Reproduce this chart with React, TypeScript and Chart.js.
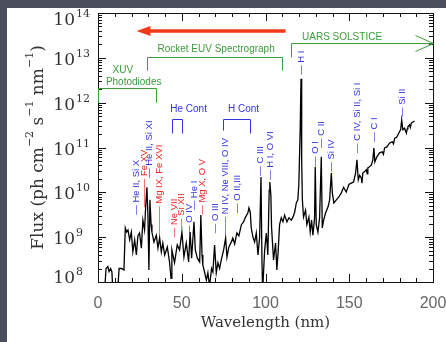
import React, { useEffect, useRef } from "react";
import { Chart, registerables } from "chart.js";

Chart.register(...registerables);

// ---- spectrum (nm, ph cm^-2 s^-1 nm^-1) ----
const wavelengths = [
  3.0, 3.9, 4.8, 5.9, 6.6, 7.5, 8.3, 8.9, 11.7, 12.6, 14.1, 15.5, 16.3, 17.1, 17.9, 18.9, 19.9, 20.8, 21.9, 22.9,
  23.8, 24.8, 25.9, 26.8, 27.8, 28.5, 29.2, 29.8, 30.4, 31.0, 31.7, 32.2, 33.4, 34.8, 35.8, 36.8, 37.8, 38.7, 39.8, 41.4,
  42.7, 43.6, 44.1, 45.7, 47.3, 48.7, 50.1, 51.3, 52.7, 54.1, 55.0, 55.9, 57.3, 58.1, 59.3, 60.7, 61.4, 62.1, 62.6, 63.6,
  64.7, 65.6, 66.6, 67.8, 68.6, 69.6, 70.6, 71.6, 72.6, 73.6, 75.0, 76.2, 77.0, 78.1, 79.6, 80.5, 81.6, 82.9, 84.1, 85.6,
  86.9, 88.1, 89.5, 90.1, 90.9, 91.5, 92.5, 93.5, 94.5, 95.5, 96.5, 97.3, 97.9, 98.3, 98.9, 99.5, 100.5, 101.4, 102.2, 102.6,
  103.2, 103.6, 104.8, 106.0, 106.8, 107.6, 108.4, 109.4, 110.4, 111.4, 112.8, 114.0, 115.4, 116.4, 117.4, 118.4, 119.3, 119.9, 120.7, 121.2,
  121.6, 122.0, 122.7, 123.9, 124.7, 125.9, 126.7, 127.5, 128.3, 129.3, 129.7, 130.3, 131.3, 132.3, 133.3, 133.9, 134.7, 135.9, 137.3, 138.3,
  139.3, 139.9, 140.8, 142.3, 143.8, 145.3, 146.6, 148.2, 149.8, 151.2, 152.6, 153.8, 154.6, 155.4, 156.2, 157.2, 157.6, 158.1, 159.2, 160.2,
  160.7, 161.1, 162.1, 163.2, 164.1, 164.7, 165.3, 166.5, 168.1, 169.7, 170.4, 171.1, 172.5, 174.1, 175.7, 176.4, 177.1, 178.4, 179.6, 180.7,
  181.3, 182.0, 183.0, 184.1, 184.6, 185.0, 186.0, 186.5, 187.0, 188.0, 189.0,
];
const fluxes = [
  6e7, 6e7, 2.0e8, 2.2e8, 1.7e8, 2.0e8, 1.7e8, 6e7, 6e7, 2.0e8, 2.0e8, 1.85e8, 1.6e9, 1.3e9, 1.45e9, 8.7e8, 1.3e9, 4.7e8, 8.7e8, 4.0e8,
  1.07e9, 1.24e9, 5.7e8, 2.4e9, 1.45e9, 5.2e9, 1.3e10, 3.1e9, 1.85e8, 6.8e9, 1.9e9, 1.3e9, 7.8e8, 1.1e9, 5.7e8, 9.6e8, 4.7e8, 7.4e8, 4.0e8, 6.0e8,
  2.8e8, 1.2e8, 5.2e8, 2.7e8, 6.7e8, 5.2e8, 1.3e9, 3.6e8, 7.4e8, 2.8e8, 1.3e9, 3.4e8, 2.2e9, 5.2e8, 3.4e8, 2.8e8, 3.1e9, 4.0e8, 2.4e8, 1.67e8,
  1.1e8, 1.6e8, 8e7, 2.0e8, 1.67e8, 6.7e8, 1.6e8, 2.7e8, 2.0e8, 3.1e8, 5.2e8, 9.6e8, 3.6e8, 6.0e8, 7.8e8, 9.6e8, 7.0e8, 1.24e9, 1.07e9, 1.9e9,
  2.2e9, 2.8e9, 3.5e9, 4.5e9, 3.6e9, 1.6e9, 1.0e9, 7.8e8, 1.24e9, 4.0e8, 1.0e9, 2.2e10, 2.8e8, 6e7, 1.85e8, 5.2e8, 1.24e9, 4.0e8, 1.1e10, 1.7e10,
  8.7e9, 1.7e9, 3.1e8, 7.4e8, 1.85e8, 5.2e8, 1.9e9, 2.7e9, 2.2e9, 3.1e9, 2.2e9, 2.7e9, 2.4e9, 2.8e9, 3.6e9, 5.8e9, 6.8e9, 1.5e10, 2.5e11, 3.4e12,
  5.3e10, 6.8e9, 2.8e9, 4.0e9, 1.9e9, 2.8e9, 1.3e9, 2.4e9, 1.1e9, 2.7e9, 3.7e10, 1.9e9, 1.3e9, 2.7e9, 6.2e10, 1.6e9, 2.4e9, 3.5e9, 4.7e9, 6.8e9,
  2.7e10, 9.7e9, 5.8e9, 6.8e9, 7.9e9, 9.7e9, 1.3e10, 1.02e10, 1.5e10, 1.6e10, 1.7e10, 2.7e10, 5.3e10, 1.9e10, 2.4e10, 2.1e10, 1.6e10, 2.7e10, 2.9e10, 3.2e10,
  2.6e10, 3.5e10, 3.7e10, 4.1e10, 5.3e10, 9.7e10, 4.8e10, 6.2e10, 7.6e10, 8.0e10, 7.0e10, 9.8e10, 1.03e11, 1.26e11, 1.34e11, 1.2e11, 1.6e11, 1.72e11, 2.1e11, 2.5e11,
  4.1e11, 2.5e11, 2.7e11, 2.1e11, 2.6e11, 2.9e11, 3.2e11, 2.8e11, 3.5e11, 3.7e11, 3.9e11,
];

// ---- axes ----
const xTickValues = [0, 50, 100, 150, 200];
const yDecades = [8, 9, 10, 11, 12, 13, 14];

// ---- line identifications ----
const BLUE = "#3434e0";
const RED = "#ee2424";
const GREEN = "#3c9c3c";
const lineLabelTexts = [
  "— He II, Si X", "——— Fe XV", "— He II, Si XI", "——— Mg IX, Fe XVI", "— Ne VII", "— Si XII", "— O IV",
  "— He I", "— Mg X, O V", "— O III", "—— N IV, Ne VIII, O IV", "— O II,III", "— C III", "— H I, O VI",
  "— H I", "— O I", "— C II", "— Si IV", "— C IV, Si II, Si I", "— C I", "— Si II",
];
const lineLabelWl = [22.4, 27.5, 30.2, 36.5, 45.3, 49.6, 54.4, 57.1, 61.9, 69.6, 75.9, 83.0, 96.8, 102.4, 121.0, 129.7, 133.3, 139.3, 154.6, 164.5, 181.4];
const lineLabelLogF = [9.5, 9.67, 10.32, 9.05, 9.0, 9.2, 9.05, 9.6, 9.5, 9.09, 9.03, 9.54, 10.37, 10.28, 12.62, 10.59, 10.99, 10.46, 10.88, 11.13, 11.68];
const lineLabelRed = [false, true, false, true, true, true, false, false, true, false, false, false, false, false, false, false, false, false, false, false, false];

// ---- instrument ranges (wavelength, log10 flux) ----
const instrumentTexts = ["XUV", "Photodiodes", "Rocket EUV Spectrograph", "UARS SOLSTICE"];
const instrumentTextWl = [14.8, 21.3, 70.5, 145.7];
const instrumentTextLogF = [12.73, 12.46, 13.2, 13.47];
const xuvBracket = [[0, 12.02], [0, 12.33], [34.4, 12.33], [34.4, 12.02]];
const rocketBracket = [[29, 12.73], [29, 13.02], [109.6, 13.02], [109.6, 12.73]];
const uarsBracket = [[115, 13.02], [115, 13.33], [200, 13.33]];
const uarsArrowHead = [[189, 13.51], [200, 13.33], [189, 13.16]];
const redArrow = [[112, 13.6], [23, 13.6]];
const contTexts = ["He Cont", "H Cont"];
const contTextWl = [54.1, 86.9];
const contTextLogF = [11.86, 11.86];
const heContBracket = [[44, 11.33], [44, 11.64], [50, 11.64], [50, 11.33]];
const hContBracket = [[74.4, 11.38], [74.4, 11.64], [90.5, 11.64], [90.5, 11.33]];

const overlay = {
  id: "overlay",
  beforeDraw(chart: any) {
    const ctx = chart.ctx;
    ctx.save();
    ctx.fillStyle = "#4b4f5d";
    ctx.fillRect(0, 0, chart.width, chart.height);
    ctx.fillStyle = "#ffffff";
    ctx.fillRect(7, 8, chart.width - 7, chart.height - 8);
    ctx.restore();
  },
  afterDatasetsDraw(chart: any) {
    const ctx = chart.ctx;
    const a = chart.chartArea;
    const xs = chart.scales.x;
    const ys = chart.scales.y;
    const X = (w: number) => xs.getPixelForValue(w);
    const Y = (lf: number) => ys.getPixelForValue(Math.pow(10, lf));
    ctx.save();

    // frame
    ctx.strokeStyle = "#111";
    ctx.lineWidth = 1;
    ctx.strokeRect(Math.round(a.left) + 0.5, Math.round(a.top) + 0.5, Math.round(a.right - a.left), Math.round(a.bottom - a.top));

    // ticks
    ctx.beginPath();
    for (let v = 0; v <= 200; v += 10) {
      const x = Math.round(X(v)) + 0.5;
      const len = v % 50 === 0 ? 8 : 4;
      ctx.moveTo(x, a.bottom); ctx.lineTo(x, a.bottom - len);
      ctx.moveTo(x, a.top); ctx.lineTo(x, a.top + len);
    }
    for (const e of yDecades) {
      for (let m = 1; m <= 9; m++) {
        if (e === 14 && m > 1) break;
        const y = Math.round(ys.getPixelForValue(m * Math.pow(10, e))) + 0.5;
        const len = m === 1 ? 8 : 4;
        ctx.moveTo(a.left, y); ctx.lineTo(a.left + len, y);
        ctx.moveTo(a.right, y); ctx.lineTo(a.right - len, y);
      }
    }
    ctx.stroke();

    // x tick labels
    ctx.fillStyle = "#666";
    ctx.font = "16px 'Liberation Sans'";
    ctx.textAlign = "center";
    ctx.textBaseline = "alphabetic";
    for (const v of xTickValues) ctx.fillText(String(v), X(v), a.bottom + 26);

    // y tick labels 10^n
    ctx.fillStyle = "#333";
    for (const e of yDecades) {
      const py = ys.getPixelForValue(Math.pow(10, e));
      const base = Math.min(Math.max(py + 7, a.top + 12), a.bottom + 1);
      ctx.font = "17px 'DejaVu Serif'";
      ctx.textAlign = "right";
      ctx.fillText("10", 75, base);
      ctx.font = "11px 'DejaVu Serif'";
      ctx.textAlign = "left";
      ctx.fillText(String(e), 76, base - 8);
    }

    // x title
    ctx.font = "15px 'DejaVu Serif'";
    ctx.textAlign = "center";
    ctx.fillText("Wavelength (nm)", (a.left + a.right) / 2, 327);

    // y title with superscripts
    ctx.save();
    ctx.translate(37, (a.top + a.bottom) / 2);
    ctx.rotate(-Math.PI / 2);
    const parts: [string, boolean][] = [["Flux (ph cm", false], ["−2", true], [" s", false], ["−1", true], [" nm", false], ["−1", true], [")", false]];
    const mainFont = "17px 'DejaVu Serif'";
    const supFont = "11px 'DejaVu Serif'";
    let total = 0;
    for (const [t, s] of parts) { ctx.font = s ? supFont : mainFont; total += ctx.measureText(t).width; }
    let cx = -total / 2;
    ctx.textAlign = "left";
    for (const [t, s] of parts) {
      ctx.font = s ? supFont : mainFont;
      ctx.fillText(t, cx, s ? -4 : 6);
      cx += ctx.measureText(t).width;
    }
    ctx.restore();

    // line identification labels
    ctx.font = "9.5px 'Liberation Sans'";
    ctx.textBaseline = "middle";
    ctx.textAlign = "left";
    lineLabelTexts.forEach((t, i) => {
      ctx.save();
      ctx.translate(Math.round(X(lineLabelWl[i])), Y(lineLabelLogF[i]));
      ctx.rotate(-Math.PI / 2);
      ctx.fillStyle = lineLabelRed[i] ? RED : BLUE;
      ctx.fillText(t, 0, 0);
      ctx.restore();
    });

    const poly = (pts: number[][], color: string, w: number) => {
      ctx.strokeStyle = color;
      ctx.lineWidth = w;
      ctx.beginPath();
      pts.forEach(([wl, lf], i) => {
        const x = Math.round(X(wl)) + 0.5, y = Math.round(Y(lf)) + 0.5;
        if (i === 0) ctx.moveTo(x, y); else ctx.lineTo(x, y);
      });
      ctx.stroke();
    };

    // continuum brackets
    poly(heContBracket, BLUE, 1);
    poly(hContBracket, BLUE, 1);
    ctx.fillStyle = BLUE;
    ctx.font = "10px 'Liberation Sans'";
    ctx.textAlign = "center";
    contTexts.forEach((t, i) => ctx.fillText(t, X(contTextWl[i]), Y(contTextLogF[i])));

    // instrument ranges
    poly(xuvBracket, GREEN, 1);
    poly(rocketBracket, GREEN, 1);
    poly(uarsBracket, GREEN, 1);
    poly(uarsArrowHead, GREEN, 1);
    ctx.fillStyle = GREEN;
    ctx.font = "10px 'Liberation Sans'";
    instrumentTexts.forEach((t, i) => ctx.fillText(t, X(instrumentTextWl[i]), Y(instrumentTextLogF[i])));

    // red arrow
    const ay = Y(redArrow[0][1]);
    const tipX = X(redArrow[1][0]);
    ctx.strokeStyle = "#f03a1a";
    ctx.fillStyle = "#f03a1a";
    ctx.lineWidth = 3.5;
    ctx.beginPath();
    ctx.moveTo(X(redArrow[0][0]), ay);
    ctx.lineTo(tipX + 10, ay);
    ctx.stroke();
    ctx.beginPath();
    ctx.moveTo(tipX, ay);
    ctx.lineTo(tipX + 14, ay - 5);
    ctx.lineTo(tipX + 14, ay + 5);
    ctx.closePath();
    ctx.fill();

    ctx.restore();
  },
};

export default function App() {
  const ref = useRef<HTMLCanvasElement>(null);
  useEffect(() => {
    document.body.style.margin = "0";
    const chart = new Chart(ref.current as HTMLCanvasElement, {
      type: "line",
      data: {
        datasets: [
          {
            data: wavelengths.map((w, i) => ({ x: w, y: fluxes[i] })),
            borderColor: "#000",
            borderWidth: 1.3,
            pointRadius: 0,
            fill: false,
            tension: 0,
          },
        ],
      },
      options: {
        responsive: false,
        animation: false,
        devicePixelRatio: 1,
        layout: { padding: { left: 98, right: 13, top: 13, bottom: 60 } },
        scales: {
          x: { type: "linear", min: 0, max: 200, display: false },
          y: { type: "logarithmic", min: 1e8, max: 1e14, display: false },
        },
        plugins: { legend: { display: false }, tooltip: { enabled: false } },
      },
      plugins: [overlay],
    } as any);
    return () => chart.destroy();
  }, []);
  return <canvas ref={ref} width={446} height={342} style={{ display: "block" }} />;
}
